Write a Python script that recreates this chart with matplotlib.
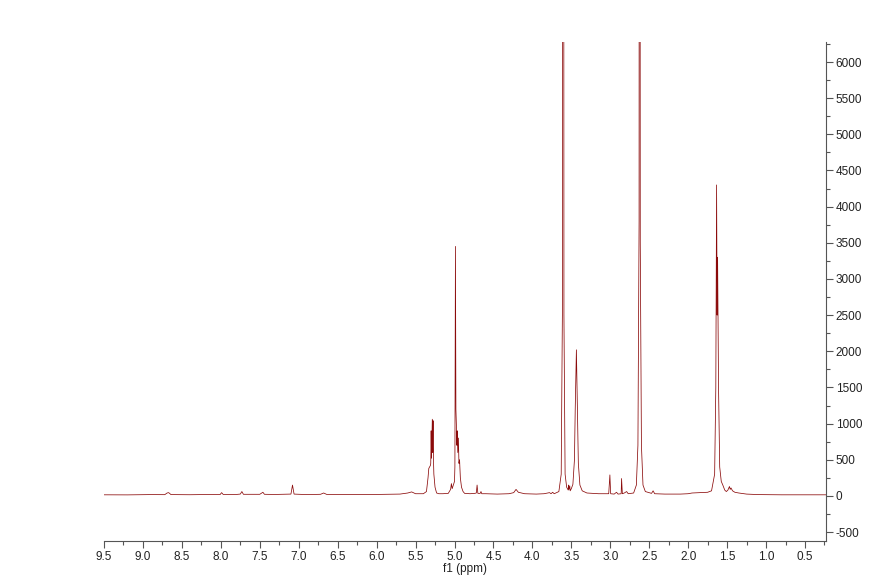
import numpy as np
import matplotlib
matplotlib.use('Agg')
import matplotlib.pyplot as plt
from matplotlib.ticker import MultipleLocator

# Spectrum vertices (ppm, intensity)
##############################################################################
shift_ppm = [9.50, 9.20, 8.90, 8.72, 8.69, 8.67, 8.64, 8.40, 8.10, 8.01, 7.99, 7.97,
             7.80, 7.75, 7.73, 7.71, 7.50, 7.46, 7.44, 7.30, 7.10, 7.08, 7.06, 6.90,
             6.72, 6.68, 6.64, 6.30, 6.00, 5.70, 5.60, 5.55, 5.50, 5.40,
             # 5.3 multiplet
             5.36, 5.34, 5.33, 5.31, 5.305, 5.30, 5.295, 5.285, 5.28, 5.275, 5.27,
             5.265, 5.25, 5.23, 5.20, 5.15, 5.08,
             # 5.0 multiplet
             5.05, 5.04, 5.03, 5.00, 4.995, 4.988, 4.982, 4.975, 4.970, 4.965, 4.958,
             4.950, 4.943, 4.935, 4.925, 4.910, 4.890, 4.870, 4.80, 4.74, 4.72, 4.71,
             4.70, 4.67, 4.66, 4.65, 4.60, 4.45, 4.30, 4.24, 4.21, 4.18, 4.10, 3.95,
             3.85, 3.78, 3.76, 3.74, 3.72, 3.66,
             # 3.6 singlet (off scale)
             3.63, 3.615, 3.605, 3.595, 3.58, 3.56,
             3.54, 3.535, 3.53, 3.52, 3.515, 3.50, 3.48,
             # 3.43 singlet
             3.46, 3.45, 3.435, 3.42, 3.41, 3.39, 3.36, 3.30, 3.15,
             3.02, 3.005, 2.995, 2.95, 2.92, 2.90, 2.86, 2.855, 2.845, 2.82, 2.79,
             2.77, 2.70,
             # 2.62 singlet (off scale)
             2.665, 2.645, 2.630, 2.625, 2.615, 2.600, 2.58, 2.55,
             2.47, 2.45, 2.43, 2.30, 2.10, 2.00, 1.95, 1.85, 1.75, 1.70,
             # 1.6 multiplet
             1.66, 1.645, 1.635, 1.628, 1.622, 1.61, 1.595, 1.575, 1.555, 1.53,
             1.51, 1.49, 1.47, 1.46, 1.45, 1.43, 1.40, 1.35, 1.25, 1.10, 0.80,
             0.50, 0.23]
intensity = [15, 14, 18, 17, 40, 45, 18, 16, 20, 18, 45, 20,
             20, 25, 60, 22, 22, 50, 22, 20, 25, 150, 25, 18,
             22, 40, 20, 18, 20, 25, 40, 55, 30, 30,
             60, 250, 380, 420, 450, 900, 520, 1060, 600, 1040, 500,
             300, 120, 40, 30, 30, 35,
             90, 170, 100, 200, 400, 3450, 1200, 950, 700, 900, 600,
             800, 450, 500, 250, 120, 60, 35, 30, 35, 40, 150,
             35, 35, 60, 30, 30, 25, 30, 45, 90, 50, 30, 25,
             30, 45, 30, 50, 30, 60,
             300, 2500, 30000, 2500, 300, 120,
             80, 150, 90, 140, 70, 100, 160,
             500, 1200, 2020, 1100, 450, 150, 70, 40, 30,
             30, 290, 30, 25, 50, 25, 30, 240, 30, 40, 60,
             30, 40,
             150, 700, 3800, 32000, 3500, 700, 150, 60,
             35, 70, 30, 25, 25, 30, 40, 45, 50, 70,
             300, 1500, 4300, 2500, 3300, 1500, 400, 200, 150, 80,
             60, 80, 130, 90, 110, 70, 50, 40, 25, 18, 15,
             15, 15]

y_ticks = np.arange(-500, 6001, 500)
x_ticks = np.arange(0.5, 9.51, 0.5)

# Plot
##############################################################################
plt.rcParams['font.family'] = ['Liberation Sans Narrow', 'Liberation Sans', 'DejaVu Sans']
fig = plt.figure(figsize=(8.86, 5.84), dpi=100)
ax = fig.add_axes([0.1174, 0.0736, 0.8149, 0.8544])

ax.plot(shift_ppm, intensity, color='#8b0a0a', linewidth=0.55)

ax.set_xlim(9.5, 0.23)
ax.set_ylim(-624, 6276)

for side in ['left', 'top']:
    ax.spines[side].set_visible(False)
for side in ['right', 'bottom']:
    ax.spines[side].set_color('#555555')
    ax.spines[side].set_linewidth(0.8)

ax.yaxis.tick_right()
ax.set_yticks(y_ticks)
ax.set_yticklabels([str(v) for v in y_ticks])
ax.yaxis.set_minor_locator(MultipleLocator(250))
ax.set_xticks(x_ticks)
ax.set_xticklabels(['%.1f' % v for v in x_ticks])
ax.xaxis.set_minor_locator(MultipleLocator(0.25))

ax.tick_params(which='both', colors='#555555', labelcolor='#222222', labelsize=8.5, width=0.8)
ax.tick_params(which='major', length=5, pad=2)
ax.tick_params(which='minor', length=3)

ax.set_xlabel('f1 (ppm)', fontsize=8.5, color='#222222', labelpad=0)

plt.savefig('out.png', dpi=100)
